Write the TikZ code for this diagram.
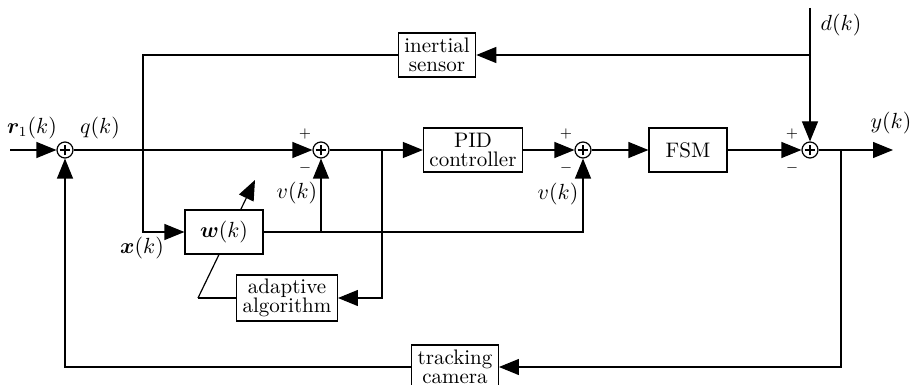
\documentclass[tikz,border=0pt]{standalone}
\usepackage{bm}
\usetikzlibrary{arrows.meta}
\tikzset{
  blk/.style={draw, fill=white, align=center, inner xsep=3pt, inner ysep=2pt,
    minimum height=22pt},
  sumnode/.style={draw, circle, fill=white, minimum size=8pt, inner sep=0pt,
    path picture={\draw[line width=#1]
      ([xshift=-2.7pt]path picture bounding box.center) -- ++(5.4pt,0)
      ([yshift=-2.7pt]path picture bounding box.center) -- ++(0,5.4pt);}},
  sumnode/.default=0.6pt,
  arr/.style={-{Triangle[length=10pt,width=8pt]}},
  sgn/.style={font=\scriptsize, inner sep=0pt},
}

\begin{document}
\begin{tikzpicture}[x=0.5pt,y=-0.5pt,line width=0.6pt,
  font=\fontsize{10.5}{9.5}\selectfont]
  \useasboundingbox (0,0) rectangle (911,385);

  \coordinate (in) at (10,150);
  \coordinate (out) at (893,150);
  \coordinate (dk) at (810,8);
  \coordinate (dj) at (810,55);
  \coordinate (xc) at (143,232);
  \coordinate (vj) at (321,232);
  \coordinate (ea) at (382,150);
  \coordinate (ey) at (841,150);

  % adaptation arrow, goes under the filter box
  \draw[arr] (198,298) coordinate (ac) -- (255,180);

  \node[sumnode=1.4pt] (s1) at (65,150) {};
  \foreach \n/\x/\d in {s2/321/16, s3/583/17, s4/810/18}{
    \node[sumnode] (\n) at (\x,150) {};
    \node[sgn] at ([shift={(-\d,-16)}]\n) {$+$};
    \node[sgn] at ([shift={(-\d,18)}]\n) {$-$};
  }

  \node[blk] (pid) at (473,150) {PID\\controller};
  \node[blk, minimum width=39pt] (fsm) at (688,150) {FSM};
  \node[blk] (ins) at (437,55) {inertial\\sensor};
  \node[blk, minimum width=39pt] (w) at (224,232) {$\bm{w}(k)$};
  \node[blk] (alg) at (287,298) {adaptive\\algorithm};
  \node[blk] (cam) at (455,367) {tracking\\camera};

  % forward path
  \draw[arr] (in) -- (s1);
  \draw[arr] (s1) -- (s2);
  \draw[arr] (s2) -- (pid);
  \draw[arr] (pid) -- (s3);
  \draw[arr] (s3) -- (fsm);
  \draw[arr] (fsm) -- (s4);
  \draw[arr] (s4) -- (out);
  \draw[arr] (dk) -- (s4);

  % filter branch
  \draw[arr] (dj) -- (ins);
  \draw[arr] (ins) -| (xc) -- (w);
  \draw[arr] (w) -| (s3);
  \draw[arr] (vj) -- (s2);
  \draw[arr] (ea) |- (alg);
  \draw (ac) -- (alg);

  % camera loop
  \draw[arr] (ey) |- (cam);
  \draw[arr] (cam) -| (s1);

  \node (lr) at (32,128) {$\bm{r}_1(k)$};
  \node (lq) at (100,128) {$q(k)$};
  \node (lx) at (142,248) {$\bm{x}(k)$};
  \node (lv1) at (297,193) {$v(k)$};
  \node (lv2) at (558,194) {$v(k)$};
  \node (ld) at (841,25) {$d(k)$};
  \node (ly) at (891,123) {$y(k)$};
\end{tikzpicture}
\end{document}
